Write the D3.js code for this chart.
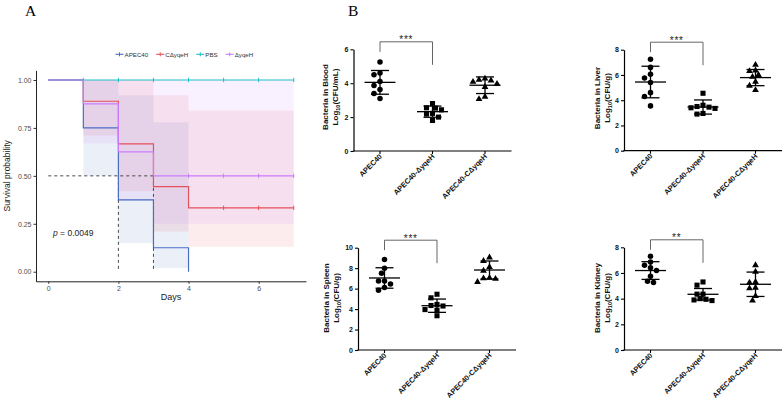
<!DOCTYPE html>
<html><head><meta charset="utf-8">
<script src="https://cdn.jsdelivr.net/npm/d3@7"></script>
<style>body{margin:0;background:#fff}svg{display:block}</style>
</head><body>
<svg id="c" width="784" height="404"></svg>
<script>
// ---------- Panel A data (Kaplan-Meier) ----------
const survNames = ["APEC40", "CΔyqeH", "PBS", "ΔyqeH"];
const survColors = ["#4A6CC3", "#E5505C", "#1DBFC4", "#C77CFF"];
const apecTimes = [0, 1, 2, 3, 4];
const apecSurv  = [1, 0.75, 0.375, 0.125, 0];
const apecLower = [1, 0.50, 0.15, 0.02, 0];
const apecUpper = [1, 1, 0.92, 0.78, 0];
const apecEnd = 4, apecCensor = [];
const compTimes = [0, 1, 2, 3, 4];
const compSurv  = [1, 0.889, 0.667, 0.444, 0.333];
const compLower = [1, 0.71, 0.42, 0.21, 0.13];
const compUpper = [1, 1, 1, 0.92, 0.84];
const compEnd = 7, compCensor = [5, 6, 7];
const pbsTimes = [0], pbsSurv = [1], pbsLower = [1], pbsUpper = [1];
const pbsEnd = 7, pbsCensor = [1, 2, 3, 4, 5, 6, 7];
const delTimes = [0, 1, 2, 3];
const delSurv  = [1, 0.875, 0.625, 0.5];
const delLower = [1, 0.67, 0.37, 0.25];
const delUpper = [1, 1, 1, 1];
const delEnd = 7, delCensor = [4, 5, 6, 7];
const dayTicks = [0, 2, 4, 6];
const probTicks = [0, 0.25, 0.5, 0.75, 1];
const medianDays = [2, 3];
const pText = "0.0049";

// ---------- Panel B data ----------
const groups = ["APEC40", "APEC40-ΔyqeH", "APEC40-CΔyqeH"];
const bloodAPEC  = [5.25, 4.6, 4.5, 4.1, 3.86, 3.63, 3.39, 3.1];
const bloodDel   = [2.8, 2.53, 2.55, 2.43, 2.22, 2.18, 2.0, 1.8];
const bloodComp  = [4.27, 4.16, 4.2, 4.08, 3.96, 3.78, 3.2, 3.06];
const bloodMean  = [4.05, 2.32, 3.88];
const bloodSD    = [0.70, 0.33, 0.49];
const liverAPEC  = [7.25, 6.6, 6.05, 5.75, 5.4, 4.6, 4.3, 3.55];
const liverDel   = [4.55, 3.6, 3.5, 3.45, 3.4, 3.35, 2.95, 2.9];
const liverComp  = [6.8, 6.35, 6.3, 6.0, 5.85, 5.45, 5.15, 4.8];
const liverMean  = [5.44, 3.46, 5.79];
const liverSD    = [1.25, 0.56, 0.64];
const spleenAPEC = [8.85, 8.0, 7.5, 6.75, 6.75, 6.45, 6.1, 5.85];
const spleenDel  = [5.45, 5.1, 4.45, 4.35, 4.3, 3.95, 3.9, 3.35];
const spleenComp = [9.05, 8.7, 8.1, 7.75, 7.05, 7.0, 6.95, 6.65];
const spleenMean = [7.04, 4.33, 7.82];
const spleenSD   = [1.0, 0.65, 0.88];
const kidneyAPEC = [7.3, 6.85, 6.6, 6.4, 6.2, 5.75, 5.35, 5.25];
const kidneyDel  = [5.3, 5.05, 4.35, 4.35, 4.0, 3.95, 3.9, 3.85];
const kidneyComp = [6.6, 6.1, 5.3, 5.25, 4.85, 4.8, 4.2, 3.85];
const kidneyMean = [6.19, 4.34, 5.12];
const kidneySD   = [0.69, 0.45, 0.95];
const sigLabels = ["***", "***", "***", "**"];

const svg = d3.select("#c");
const FONT = "Arial, 'Liberation Sans', Helvetica, sans-serif";

// ---------- Panel letters ----------
svg.append("text").attr("x", 25).attr("y", 16).text("A")
  .attr("font-family", "'Liberation Serif', 'Times New Roman', serif").attr("font-size", 15.5);
svg.append("text").attr("x", 348).attr("y", 16).text("B")
  .attr("font-family", "'Liberation Serif', 'Times New Roman', serif").attr("font-size", 15.5);

// ---------- Panel A ----------
const xA = d3.scaleLinear().domain([-0.35, 7.35]).range([36, 306]);
const yA = d3.scaleLinear().domain([-0.05, 1.05]).range([281.3, 70.4]);
const gA = svg.append("g");

const series = [
  {name: survNames[0], color: survColors[0], times: apecTimes, surv: apecSurv, lower: apecLower, upper: apecUpper, end: apecEnd, censor: apecCensor},
  {name: survNames[1], color: survColors[1], times: compTimes, surv: compSurv, lower: compLower, upper: compUpper, end: compEnd, censor: compCensor},
  {name: survNames[2], color: survColors[2], times: pbsTimes, surv: pbsSurv, lower: pbsLower, upper: pbsUpper, end: pbsEnd, censor: pbsCensor},
  {name: survNames[3], color: survColors[3], times: delTimes, surv: delSurv, lower: delLower, upper: delUpper, end: delEnd, censor: delCensor}
];

function stepPts(s) {
  const pts = s.times.map((t, i) => ({t, s: s.surv[i], lo: s.lower[i], hi: s.upper[i]}));
  const last = pts[pts.length - 1];
  pts.push({t: s.end, s: last.s, lo: last.lo, hi: last.hi});
  return pts;
}
const area = d3.area().curve(d3.curveStepAfter)
  .x(d => xA(d.t)).y0(d => yA(d.lo)).y1(d => yA(d.hi));
const line = d3.line().curve(d3.curveStepAfter).x(d => xA(d.t)).y(d => yA(d.s));

series.forEach(s => {
  gA.append("path").attr("d", area(stepPts(s))).attr("fill", s.color)
    .attr("fill-opacity", 0.11).attr("stroke", "none");
});

// median dashed lines
gA.append("line").attr("x1", xA(0)).attr("x2", xA(d3.max(medianDays)))
  .attr("y1", yA(0.5)).attr("y2", yA(0.5))
  .attr("stroke", "#333").attr("stroke-width", 0.9).attr("stroke-dasharray", "3,3");
medianDays.forEach(d => {
  gA.append("line").attr("x1", xA(d)).attr("x2", xA(d)).attr("y1", yA(0.5)).attr("y2", yA(0))
    .attr("stroke", "#333").attr("stroke-width", 0.9).attr("stroke-dasharray", "3,3");
});

series.forEach(s => {
  gA.append("path").attr("d", line(stepPts(s))).attr("fill", "none")
    .attr("stroke", s.color).attr("stroke-width", 1.2);
  const lastS = s.surv[s.surv.length - 1];
  s.censor.forEach(c => {
    gA.append("line").attr("x1", xA(c)).attr("x2", xA(c))
      .attr("y1", yA(lastS) - 2.2).attr("y2", yA(lastS) + 2.2)
      .attr("stroke", s.color).attr("stroke-width", 1);
  });
});

// axes A
const axA = gA.append("g").attr("transform", "translate(0,281.3)")
  .call(d3.axisBottom(xA).tickValues(dayTicks).tickFormat(d3.format("d")).tickSize(2.5).tickSizeOuter(0).tickPadding(2));
const ayA = gA.append("g").attr("transform", "translate(36,0)")
  .call(d3.axisLeft(yA).tickValues(probTicks).tickFormat(d3.format(".2f")).tickSize(2.5).tickSizeOuter(0).tickPadding(2));
[axA, ayA].forEach(a => {
  a.select(".domain").attr("stroke", "#222").attr("stroke-width", 1);
  a.selectAll(".tick line").attr("stroke", "#333");
  a.selectAll(".tick text").attr("font-family", FONT).attr("font-size", 7).attr("fill", "#4d4d4d");
});
gA.append("text").attr("x", xA(3.5)).attr("y", 299.5).attr("text-anchor", "middle")
  .attr("font-family", FONT).attr("font-size", 9).attr("fill", "#222").text("Days");
gA.append("text").attr("transform", `translate(10,${yA(0.5)}) rotate(-90)`).attr("text-anchor", "middle")
  .attr("font-family", FONT).attr("font-size", 8.5).attr("fill", "#222").text("Survival probability");
const pt = gA.append("text").attr("x", 53).attr("y", 236).attr("font-family", FONT)
  .attr("font-size", 8.5).attr("fill", "#222");
pt.append("tspan").attr("font-style", "italic").text("p");
pt.append("tspan").text(" = " + pText);

// legend
let lx = 115.5;
const ly = 54.3;
series.forEach(s => {
  gA.append("line").attr("x1", lx).attr("x2", lx + 8).attr("y1", ly).attr("y2", ly)
    .attr("stroke", s.color).attr("stroke-width", 1.1);
  gA.append("line").attr("x1", lx + 4).attr("x2", lx + 4).attr("y1", ly - 2).attr("y2", ly + 2)
    .attr("stroke", s.color).attr("stroke-width", 1);
  const t = gA.append("text").attr("x", lx + 9).attr("y", ly + 2.2).attr("font-family", FONT)
    .attr("font-size", 6.2).attr("fill", "#333").text(s.name);
  lx += 9 + t.node().getComputedTextLength() + 8;
});

// ---------- Panel B ----------
const panels = [
  {t1: "Bacteria in Blood", unit: "(CFU/mL)", data: [bloodAPEC, bloodDel, bloodComp], mean: bloodMean, sd: bloodSD,
   yMax: 6, x0: 353.5, yTop: 49.3, yBot: 151, b1: 328, b2: 337.5, yMid: 97, sig: sigLabels[0]},
  {t1: "Bacteria in Liver", unit: "(CFU/g)", data: [liverAPEC, liverDel, liverComp], mean: liverMean, sd: liverSD,
   yMax: 8, x0: 624, yTop: 49.7, yBot: 150.7, b1: 600, b2: 609.5, yMid: 98, sig: sigLabels[1]},
  {t1: "Bacteria in Spleen", unit: "(CFU/g)", data: [spleenAPEC, spleenDel, spleenComp], mean: spleenMean, sd: spleenSD,
   yMax: 10, x0: 358, yTop: 247.7, yBot: 350, b1: 329, b2: 338.5, yMid: 298, sig: sigLabels[2]},
  {t1: "Bacteria in Kidney", unit: "(CFU/g)", data: [kidneyAPEC, kidneyDel, kidneyComp], mean: kidneyMean, sd: kidneySD,
   yMax: 8, x0: 624, yTop: 247.3, yBot: 350, b1: 600, b2: 609.5, yMid: 298, sig: sigLabels[3]}
];
const symbols = [d3.symbolCircle, d3.symbolSquare, d3.symbolTriangle];
const symSizes = [24, 26, 20];

function swarm(vals, yS, cx) {
  const order = vals.map((v, i) => i).sort((a, b) => vals[b] - vals[a]);
  const placed = [], xs = new Array(vals.length);
  const step = 3, minD = 5.3;
  order.forEach(i => {
    const py = yS(vals[i]);
    for (let k = 0; k < 30; k++) {
      const off = k === 0 ? 0 : (k % 2 ? -1 : 1) * Math.ceil(k / 2) * step;
      const px = cx + off;
      if (placed.every(p => Math.hypot(p[0] - px, p[1] - py) >= minD)) {
        placed.push([px, py]); xs[i] = px; break;
      }
    }
  });
  return xs;
}

panels.forEach(p => {
  const g = svg.append("g");
  const y = d3.scaleLinear().domain([0, p.yMax]).range([p.yBot, p.yTop]);
  const x = d3.scalePoint().domain(groups).range([p.x0 + 26.5, p.x0 + 131.5]);
  const ay = g.append("g").attr("transform", `translate(${p.x0},0)`)
    .call(d3.axisLeft(y).tickValues(d3.range(0, p.yMax + 1, 2)).tickFormat(d3.format("d"))
      .tickSize(3).tickSizeOuter(0).tickPadding(2));
  ay.select(".domain").attr("stroke", "#000").attr("stroke-width", 1.2);
  ay.selectAll(".tick line").attr("stroke", "#000").attr("stroke-width", 1.1);
  ay.selectAll(".tick text").attr("font-family", FONT).attr("font-size", 7).attr("font-weight", "bold").attr("fill", "#111");
  // x axis
  g.append("line").attr("x1", p.x0 - 0.6).attr("x2", p.x0 + 158).attr("y1", p.yBot).attr("y2", p.yBot)
    .attr("stroke", "#000").attr("stroke-width", 1.2);
  groups.forEach(gr => {
    const cx = x(gr);
    g.append("line").attr("x1", cx).attr("x2", cx).attr("y1", p.yBot).attr("y2", p.yBot + 3)
      .attr("stroke", "#000").attr("stroke-width", 1.1);
    g.append("text").attr("transform", `translate(${cx + 2.5},${p.yBot + 6}) rotate(-45)`)
      .attr("text-anchor", "end").attr("font-family", FONT).attr("font-size", 7.4)
      .attr("font-weight", "bold").attr("fill", "#111").text(gr);
  });
  // y title
  g.append("text").attr("transform", `translate(${p.b1},${p.yMid}) rotate(-90)`).attr("text-anchor", "middle")
    .attr("font-family", FONT).attr("font-size", 8).attr("font-weight", "bold").attr("fill", "#111").text(p.t1);
  const t2 = g.append("text").attr("transform", `translate(${p.b2},${p.yMid}) rotate(-90)`).attr("text-anchor", "middle")
    .attr("font-family", FONT).attr("font-size", 8).attr("font-weight", "bold").attr("fill", "#111");
  t2.append("tspan").text("Log");
  t2.append("tspan").attr("font-size", 5.5).attr("dy", 2).text("10");
  t2.append("tspan").attr("dy", -2).text(p.unit);
  // points
  p.data.forEach((vals, gi) => {
    const cx = x(groups[gi]);
    const xs = swarm(vals, y, cx);
    vals.forEach((v, i) => {
      g.append("path").attr("d", d3.symbol(symbols[gi], symSizes[gi])())
        .attr("transform", `translate(${xs[i]},${y(v)})`).attr("fill", "#000");
    });
    // mean and SD
    const m = p.mean[gi], s = p.sd[gi];
    g.append("line").attr("x1", cx - 15.5).attr("x2", cx + 15.5).attr("y1", y(m)).attr("y2", y(m))
      .attr("stroke", "#000").attr("stroke-width", 1.3);
    g.append("line").attr("x1", cx).attr("x2", cx).attr("y1", y(m - s)).attr("y2", y(m + s))
      .attr("stroke", "#000").attr("stroke-width", 1.3);
    [m - s, m + s].forEach(e => {
      g.append("line").attr("x1", cx - 9).attr("x2", cx + 9).attr("y1", y(e)).attr("y2", y(e))
        .attr("stroke", "#000").attr("stroke-width", 1.3);
    });
  });
  // significance bracket
  const x1 = x(groups[0]), x2 = x(groups[1]), top = p.yTop - 7.5;
  g.append("path").attr("d", `M${x1},${top + 10}V${top}H${x2}V${top + 23}`)
    .attr("fill", "none").attr("stroke", "#555").attr("stroke-width", 0.9);
  g.append("text").attr("x", (x1 + x2) / 2).attr("y", top + 1.5).attr("text-anchor", "middle")
    .attr("font-family", FONT).attr("font-size", 10).attr("letter-spacing", 0.8).attr("fill", "#222").text(p.sig);
});
</script>
</body></html>
